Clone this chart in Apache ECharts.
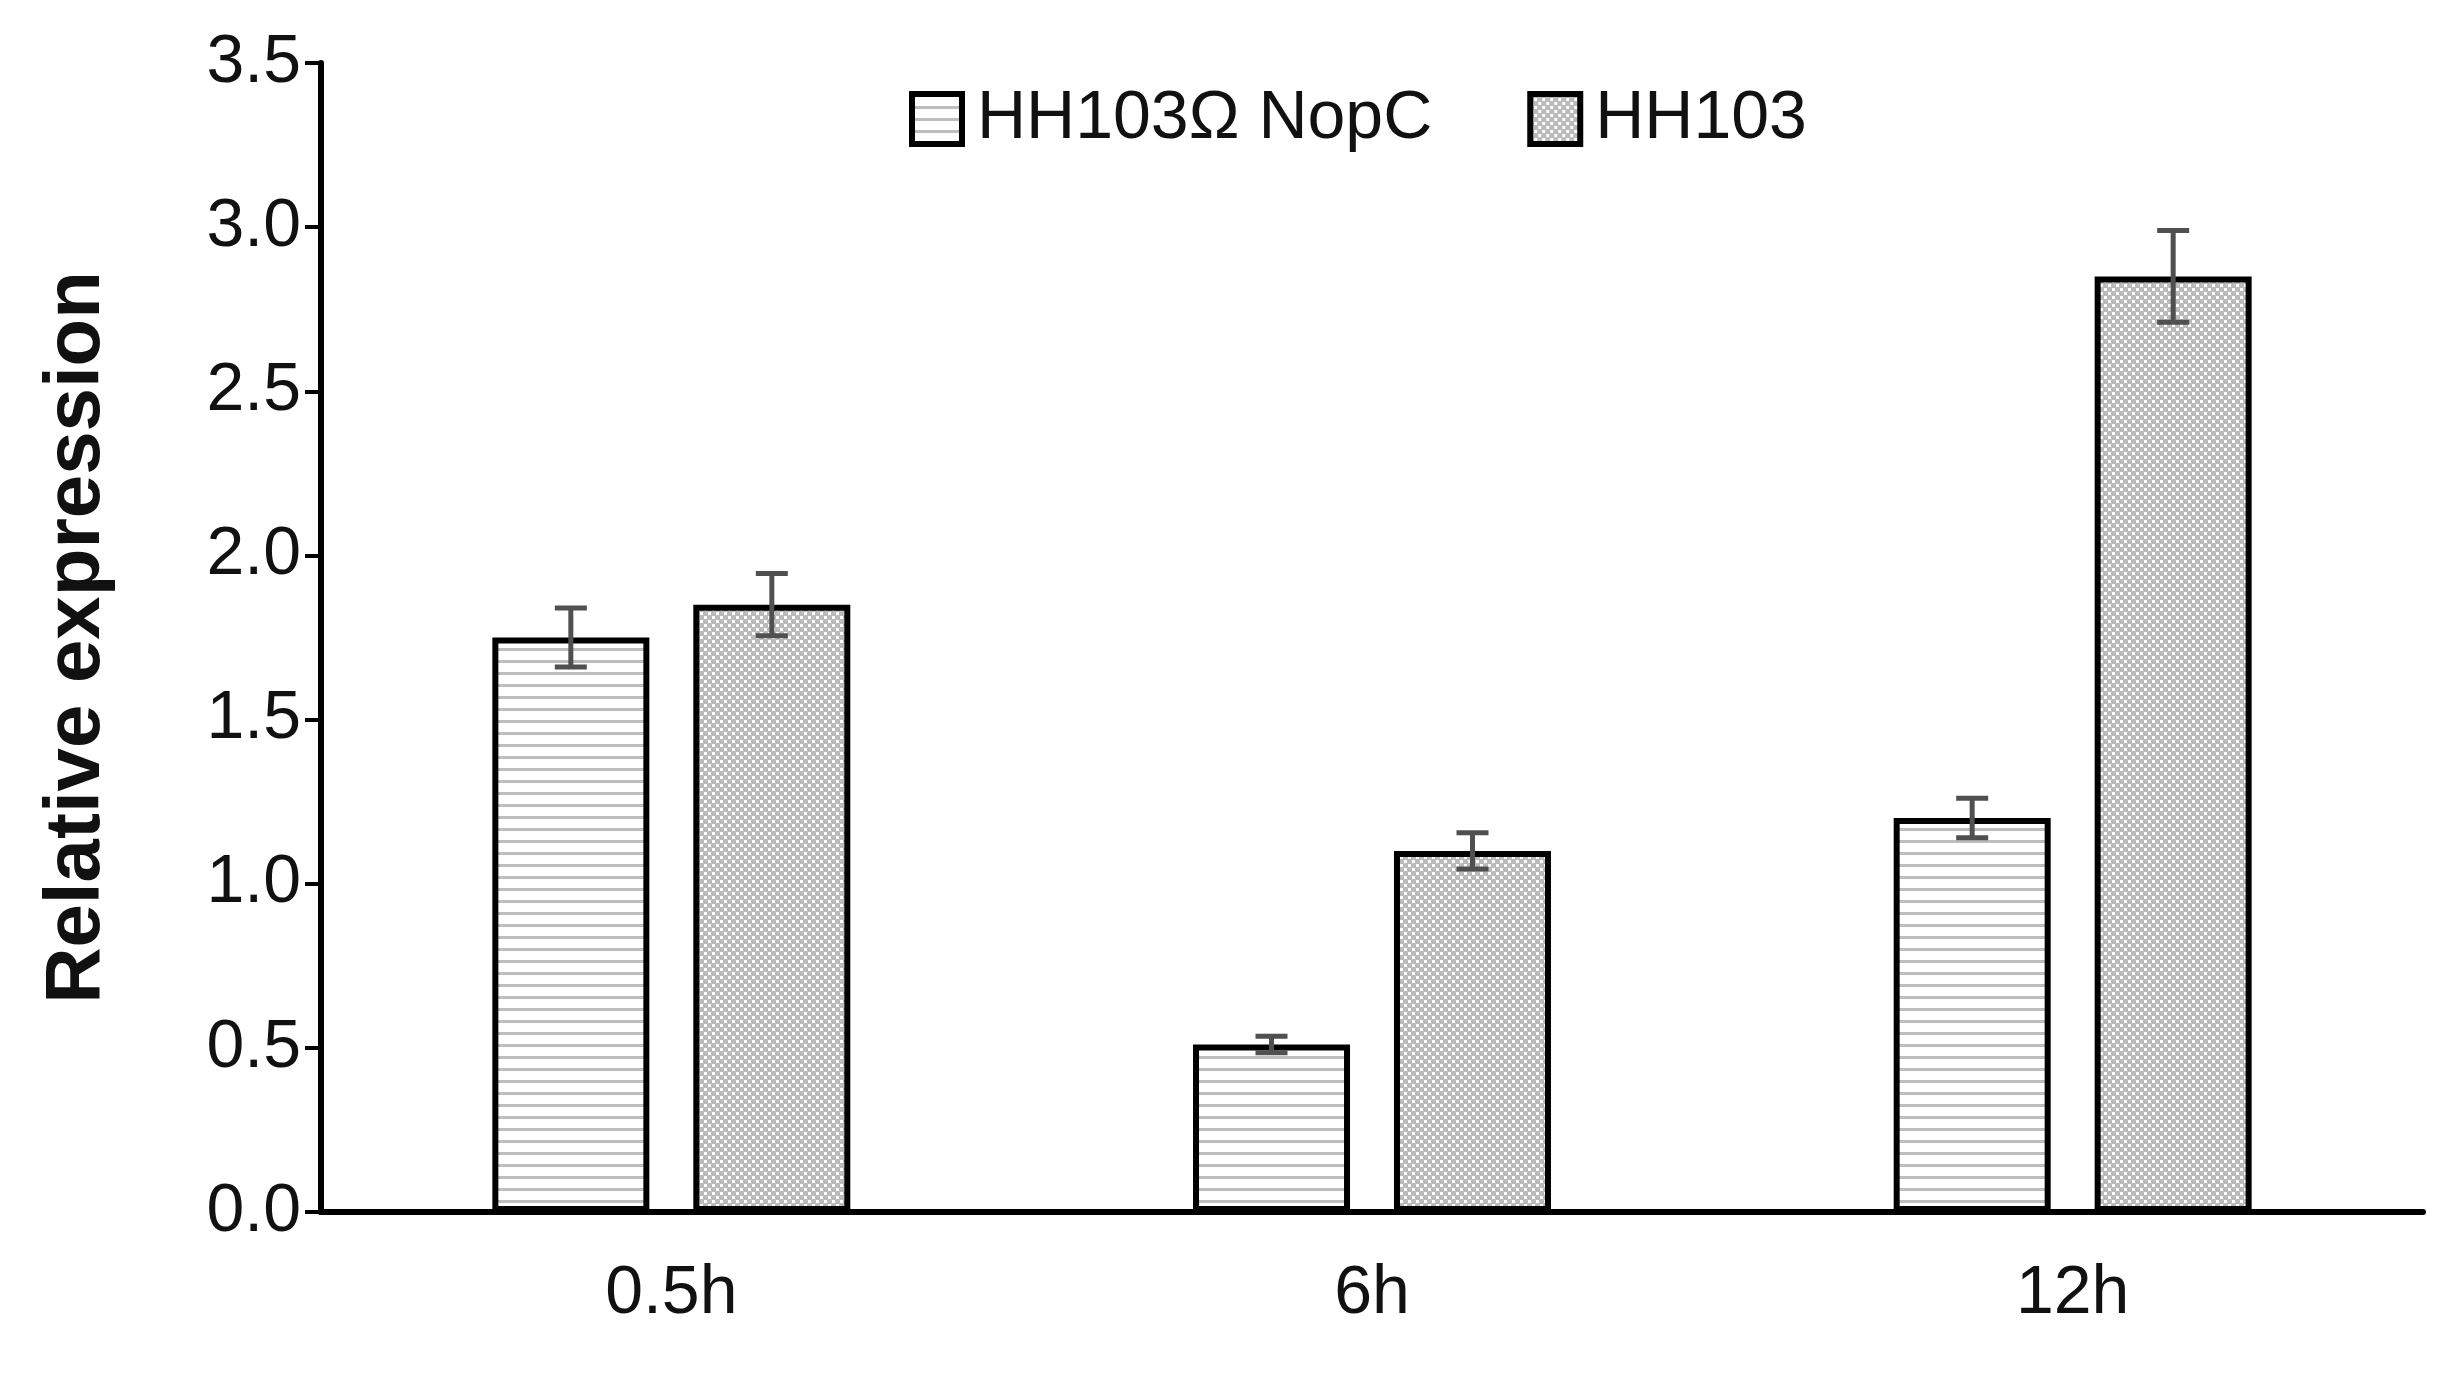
<!DOCTYPE html>
<html>
<head>
<meta charset="utf-8">
<script src="https://cdn.jsdelivr.net/npm/echarts@6/dist/echarts.min.js"></script>
<style>html,body{margin:0;background:#fff}#main{width:2447px;height:1373px}</style>
</head>
<body>
<div id="main"></div>
<script>
const categories = ["0.5h", "6h", "12h"];
const seriesNames = ["HH103Ω NopC", "HH103"];
const mutantValues = [1.75, 0.51, 1.20];
const mutantErrors = [0.09, 0.025, 0.06];
const wildValues = [1.85, 1.10, 2.85];
const wildErrors = [0.095, 0.055, 0.14];

// штриховки
function linesPattern() {
  const c = document.createElement("canvas");
  c.width = 12; c.height = 12;
  const ctx = c.getContext("2d");
  ctx.fillStyle = "#fff"; ctx.fillRect(0, 0, 12, 12);
  ctx.fillStyle = "#bdbdbd"; ctx.fillRect(0, 0, 12, 3);
  return c;
}
function dotsPattern() {
  const c = document.createElement("canvas");
  c.width = 8; c.height = 8;
  const ctx = c.getContext("2d");
  ctx.fillStyle = "#bbbbbb"; ctx.fillRect(0, 0, 8, 8);
  ctx.fillStyle = "#ffffff";
  ctx.fillRect(0, 0, 3, 3);
  ctx.fillRect(4, 4, 3, 3);
  return c;
}

const barWidth = 157;
const barStep = 201;

function errorSeries(values, errors, offset) {
  return {
    type: "custom",
    z: 10,
    silent: true,
    data: values.map((v, i) => [i, v - errors[i], v + errors[i]]),
    renderItem: function (params, api) {
      const lo = api.coord([api.value(0), api.value(1)]);
      const hi = api.coord([api.value(0), api.value(2)]);
      const x = lo[0] + offset;
      const cap = 16;
      const style = { stroke: "#505050", lineWidth: 5 };
      return {
        type: "group",
        children: [
          { type: "line", shape: { x1: x, y1: lo[1], x2: x, y2: hi[1] }, style },
          { type: "line", shape: { x1: x - cap, y1: lo[1], x2: x + cap, y2: lo[1] }, style },
          { type: "line", shape: { x1: x - cap, y1: hi[1], x2: x + cap, y2: hi[1] }, style },
        ],
      };
    },
  };
}

const chart = echarts.init(document.getElementById("main"));
const font = "'Liberation Sans', Arial, sans-serif";
const linesFill = { image: linesPattern(), repeat: "repeat" };
const dotsFill = { image: dotsPattern(), repeat: "repeat" };

chart.setOption({
  animation: false,
  grid: { left: 321, right: 24, top: 63, bottom: 161 },
  legend: {
    left: 904,
    top: 80,
    icon: "rect",
    itemWidth: 50,
    itemHeight: 50,
    itemGap: 95,
    textStyle: { fontFamily: font, fontSize: 68, color: "#111", padding: [0, 0, 0, 10] },
    data: [
      { name: seriesNames[0], itemStyle: { color: linesFill, borderColor: "#000", borderWidth: 6 } },
      { name: seriesNames[1], itemStyle: { color: dotsFill, borderColor: "#000", borderWidth: 6 } },
    ],
  },
  xAxis: {
    type: "category",
    data: categories,
    axisLine: { lineStyle: { color: "#000", width: 6 } },
    axisTick: { show: false },
    axisLabel: { fontFamily: font, fontSize: 68, color: "#111", margin: 48 },
  },
  yAxis: {
    type: "value",
    min: 0,
    max: 3.5,
    interval: 0.5,
    name: "Relative expression",
    nameLocation: "middle",
    nameGap: 205,
    nameTextStyle: { fontFamily: font, fontSize: 78, fontWeight: "bold", color: "#111" },
    axisLine: { show: true, lineStyle: { color: "#000", width: 6 } },
    axisTick: { show: true, length: 16, lineStyle: { color: "#000", width: 4 } },
    splitLine: { show: false },
    axisLabel: { fontFamily: font, fontSize: 68, color: "#111", margin: 20, formatter: (v) => v.toFixed(1) },
  },
  series: [
    {
      name: seriesNames[0],
      type: "bar",
      data: mutantValues,
      barWidth: barWidth,
      barGap: "28%",
      itemStyle: { color: linesFill, borderColor: "#000", borderWidth: 6 },
    },
    {
      name: seriesNames[1],
      type: "bar",
      data: wildValues,
      barWidth: barWidth,
      itemStyle: { color: dotsFill, borderColor: "#000", borderWidth: 6 },
    },
    errorSeries(mutantValues, mutantErrors, -barStep / 2),
    errorSeries(wildValues, wildErrors, barStep / 2),
  ],
});
</script>
</body>
</html>
